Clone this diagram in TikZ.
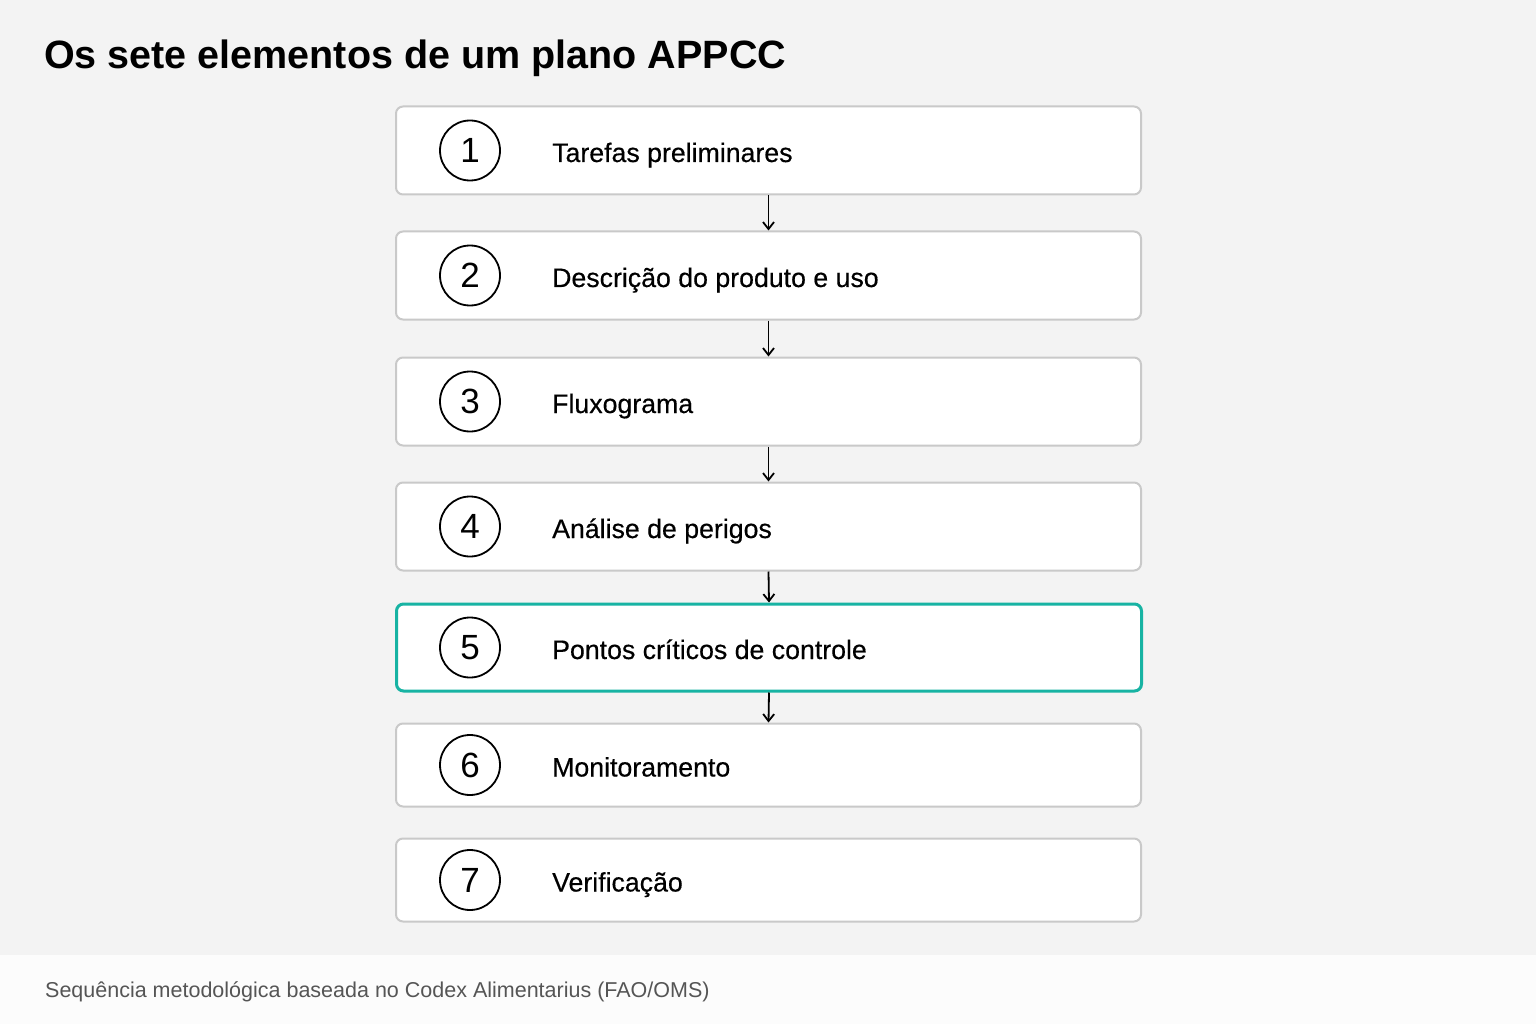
\documentclass[tikz,border=0pt]{standalone}
\usepackage{fontspec}
\setmainfont{Liberation Sans}
\usetikzlibrary{arrows.meta}
\definecolor{bg}{HTML}{F3F3F3}
\definecolor{foot}{HTML}{FCFCFC}
\definecolor{boxline}{HTML}{C9C9C9}
\definecolor{teal}{HTML}{17B3A3}
\definecolor{foottext}{HTML}{555555}
\tikzset{
  stepbox/.style={draw=boxline, line width=2pt, fill=white, rounded corners=7pt, minimum width=745pt, minimum height=88pt, anchor=north west, inner sep=0pt},
  hibox/.style={stepbox, draw=teal, line width=3pt},
  numcirc/.style={circle, draw=black, line width=1.8pt, minimum size=60pt, inner sep=0pt, font=\fontsize{35}{35}\selectfont},
  steplabel/.style={anchor=base west, font=\fontsize{26.7}{30}\selectfont\addfontfeature{FakeBold=0.4}, inner sep=0pt},
  flow/.style={-{Straight Barb[length=7pt,width=11pt]}, line width=1.8pt, black}
}
\begin{document}
\begin{tikzpicture}[x=1pt,y=-1pt]
\fill[bg] (0,0) rectangle (1536,1024);
\fill[foot] (0,955) rectangle (1536,1024);
\useasboundingbox (0,0) rectangle (1536,1024);
\node[anchor=base west, inner sep=0pt, font=\fontsize{39.5}{42}\selectfont\bfseries] (title) at (44,69) {Os sete elementos de um plano APPCC};

\node[stepbox] (b1) at (395,105.5) {};
\node[stepbox] (b2) at (395,230.5) {};
\node[stepbox] (b3) at (395,356.5) {};
\node[stepbox] (b4) at (395,481.5) {};
\node[hibox, minimum height=87pt] (b5) at (395,602.5) {};
\node[stepbox, minimum height=83pt] (b6) at (395,722.5) {};
\node[stepbox, minimum height=83pt] (b7) at (395,837.5) {};

\foreach \i/\t in {1/Tarefas preliminares,2/Descrição do produto e uso,3/Fluxograma,4/Análise de perigos,5/Pontos críticos de controle,6/Monitoramento,7/Verificação}{
  \node[numcirc] (c\i) at ([xshift=75pt]b\i.west) {\i};
  \node[steplabel] (t\i) at ([xshift=157pt,yshift=-11.5pt]b\i.west) {\t};
}

\foreach \a/\b in {1/2,2/3,3/4,4/5,5/6}{
  \draw[flow] (b\a.south) -- (b\b.north);
}

\node[anchor=base west, inner sep=0pt, font=\fontsize{21.5}{24}\selectfont, text=foottext] (foot) at (45,997) {Sequência metodológica baseada no Codex Alimentarius (FAO/OMS)};
\end{tikzpicture}
\end{document}
